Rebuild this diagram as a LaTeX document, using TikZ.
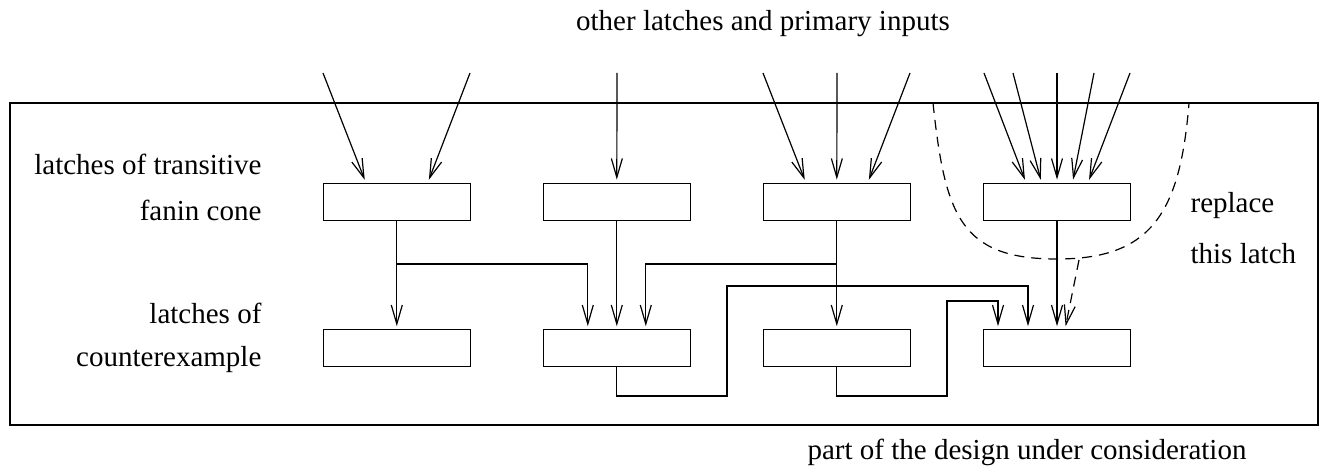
\documentclass[tikz,border=0pt]{standalone}
\usepackage{fontspec}
\setmainfont{Liberation Serif}
\usetikzlibrary{arrows.meta}
\begin{document}
\begin{tikzpicture}[x=1pt,y=-1pt,
  line width=1.2pt,
  latch/.style={draw,minimum width=147pt,minimum height=37pt,inner sep=0pt},
  wire/.style={draw},
  arr/.style={-{Straight Barb[length=19pt,width=11pt,line width=1.2pt]},shorten >=3pt},
  lbl/.style={font=\fontsize{29}{35}\selectfont,inner sep=0pt},
  dash5/.style={dash pattern=on 10pt off 7pt}]
\useasboundingbox (0,0) rectangle (1323,468);
% frame
\node[draw,minimum width=1308pt,minimum height=322pt,inner sep=0pt] (frame) at (664,264) {};
% latches
\node[latch] (t1) at (396.8,201.7) {};
\node[latch] (t2) at (616.8,201.7) {};
\node[latch] (t3) at (836.8,201.7) {};
\node[latch] (t4) at (1057,201.7) {};
\node[latch] (b1) at (396.8,348.3) {};
\node[latch] (b2) at (616.8,348.3) {};
\node[latch] (b3) at (836.8,348.3) {};
\node[latch] (b4) at (1057,348.3) {};
% labels
\node[lbl,anchor=base] (top) at (763,31) {other latches and primary inputs};
\node[lbl,anchor=base east] (l1) at (262,175) {latches of transitive};
\node[lbl,anchor=base east] (l2) at (262,220) {fanin cone};
\node[lbl,anchor=base east] (l3) at (262,323) {latches of};
\node[lbl,anchor=base east] (l4) at (262,366) {counterexample};
\node[lbl,anchor=base west] (r1) at (1190,212) {replace};
\node[lbl,anchor=base west] (r2) at (1190,263) {this latch};
\node[lbl,anchor=base west] (bot) at (807,459) {part of the design under consideration};
% input sources
\foreach \n/\x in {s1/323,s2/470,s3/617,s4/763,s5/837,s6/910,s7/984,s8/1013,s9/1057,s10/1094,s11/1130}
  \coordinate (\n) at (\x,73);
\draw[arr] (s1) -- ([xshift=-31pt]t1.north);
\draw[arr] (s2) -- ([xshift=31pt]t1.north);
\draw[arr] (s3) -- (t2.north);
\draw[arr] (s4) -- ([xshift=-31pt]t3.north);
\draw[arr] (s5) -- (t3.north);
\draw[arr] (s6) -- ([xshift=31pt]t3.north);
\draw[arr] (s7) -- ([xshift=-31pt]t4.north);
\draw[arr] (s8) -- ([xshift=-15.5pt]t4.north);
\draw[arr] (s9) -- (t4.north);
\draw[arr] (s10) -- ([xshift=15.5pt]t4.north);
\draw[arr] (s11) -- ([xshift=31pt]t4.north);
% internal connections
\coordinate (j1) at (396.8,264);
\coordinate (j3) at (836.8,264);
\draw[arr] (t1.south) -- (b1.north);
\draw[arr] (j1) -- (587.8,264) -- ([xshift=-29pt]b2.north);
\draw[arr] (t2.south) -- (b2.north);
\draw[arr] (t3.south) -- (b3.north);
\draw[arr] (j3) -- (645.8,264) -- ([xshift=29pt]b2.north);
\draw[arr] (b2.south) -- (616.8,396) -- (727,396) -- (727,286) -- (1028,286) -- ([xshift=-29pt]b4.north);
\draw[arr] (b3.south) -- (836.8,396) -- (947,396) -- (947,301) -- (998,301) -- ([xshift=-59pt]b4.north);
\draw[arr] (t4.south) -- (b4.north);
% dashed region
\coordinate (d1) at (933,103);
\coordinate (d2) at (1189,103);
\coordinate (dm) at (1057,259);
\draw[dash5] (d1) .. controls (945,215) and (960,259) .. (dm) .. controls (1150,259) and (1180,215) .. (d2);
\coordinate (da) at (1079,260);
\draw[arr,dash5] (da) -- ([xshift=8pt]b4.north);
\end{tikzpicture}
\end{document}
